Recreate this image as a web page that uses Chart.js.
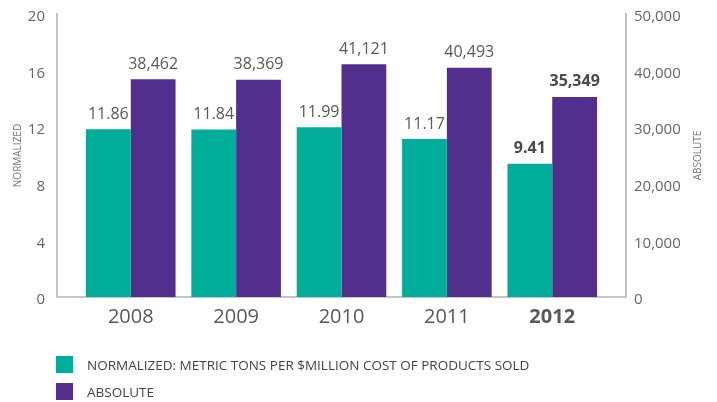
<!DOCTYPE html>
<html>
<head>
<meta charset="utf-8">
<script src="https://cdn.jsdelivr.net/npm/chart.js@4.4.1/dist/chart.umd.min.js"></script>
<style>
  body { margin: 0; background: #fff; font-family: "Open Sans", sans-serif; }
  #wrap { position: relative; width: 717px; height: 402px; }
  #legend { position: absolute; left: 56px; top: 356px; font-size: 13.5px; color: #444; }
  .item { display: flex; align-items: center; height: 17px; margin-bottom: 10px; }
  .box { width: 17px; height: 17px; margin-right: 14px; }
</style>
</head>
<body>
<div id="wrap">
  <canvas id="myChart" width="717" height="402"></canvas>
  <div id="legend"></div>
</div>
<script>
const years = ['2008', '2009', '2010', '2011', '2012'];
const normalized = [11.86, 11.84, 11.99, 11.17, 9.41];
const absolute = [38462, 38369, 41121, 40493, 35349];
const leftTicks = [0, 4, 8, 12, 16, 20];
const rightTicks = [0, 10000, 20000, 30000, 40000, 50000];

const TEAL = '#00ad9b';
const PURPLE = '#522e8d';
const AXIS = '#c4c4c4';
const TEXT = '#595959';

const seriesNames = ['NORMALIZED: METRIC TONS PER $MILLION COST OF PRODUCTS SOLD', 'ABSOLUTE'];

// value labels above bars + rotated axis titles
const labelPlugin = {
  id: 'labels',
  afterDatasetsDraw(chart) {
    const ctx = chart.ctx;
    ctx.save();
    ctx.textAlign = 'center';
    ctx.textBaseline = 'bottom';
    chart.data.datasets.forEach((ds, di) => {
      chart.getDatasetMeta(di).data.forEach((bar, i) => {
        const last = i === years.length - 1;
        ctx.font = (last ? 'bold ' : '') + '16px "Open Sans"';
        ctx.fillStyle = last ? '#4a4a4a' : TEXT;
        const v = ds.data[i].y;
        const txt = di === 0 ? v.toFixed(2) : v.toLocaleString('en-US');
        ctx.fillText(txt, bar.x, bar.y - 7);
      });
    });

    ctx.font = '10px "Open Sans"';
    ctx.fillStyle = '#777';
    ctx.textBaseline = 'middle';
    const midY = (chart.chartArea.top + chart.chartArea.bottom) / 2;
    [[18, 'NORMALIZED'], [698, 'ABSOLUTE']].forEach(([x, t]) => {
      ctx.save();
      ctx.translate(x, midY);
      ctx.rotate(-Math.PI / 2);
      ctx.fillText(t, 0, 0);
      ctx.restore();
    });
    ctx.restore();
  }
};

// fixed axis widths, and no extra room above/below for the tick labels
const fitY = width => scale => {
  scale.width = width;
  scale.paddingTop = 0;
  scale.paddingBottom = 0;
};

new Chart(document.getElementById('myChart'), {
  type: 'bar',
  data: {
    datasets: [{
      label: seriesNames[0],
      data: normalized.map((v, i) => ({ x: i, y: v })),
      backgroundColor: TEAL,
      yAxisID: 'y'
    }, {
      label: seriesNames[1],
      data: absolute.map((v, i) => ({ x: i, y: v })),
      backgroundColor: PURPLE,
      yAxisID: 'y1'
    }]
  },
  options: {
    responsive: false,
    animation: false,
    layout: { padding: { top: 14, bottom: 0, left: 0, right: 0 } },
    datasets: { bar: { categoryPercentage: 0.85, barPercentage: 1 } },
    plugins: {
      legend: { display: false },
      tooltip: { enabled: false }
    },
    scales: {
      x: {
        type: 'linear',
        offset: false,
        min: -0.7,
        max: 4.7,
        afterBuildTicks: scale => { scale.ticks = years.map((_, i) => ({ value: i })); },
        afterFit: scale => { scale.height = 105; },
        grid: { display: false, drawTicks: false },
        border: { color: AXIS, width: 2 },
        ticks: {
          padding: 8,
          color: TEXT,
          autoSkip: false,
          maxRotation: 0,
          callback: v => years[v],
          font: ctx => ({ family: 'Open Sans', size: 20, weight: ctx.index === years.length - 1 ? 'bold' : 'normal' })
        }
      },
      y: {
        position: 'left',
        min: 0,
        max: 20,
        afterBuildTicks: scale => { scale.ticks = leftTicks.map(v => ({ value: v })); },
        afterFit: fitY(57),
        grid: { display: false, drawTicks: false },
        border: { color: AXIS, width: 2 },
        ticks: { padding: 12, labelOffset: 3, color: '#666', font: { family: 'Open Sans', size: 15 } }
      },
      y1: {
        position: 'right',
        min: 0,
        max: 50000,
        afterBuildTicks: scale => { scale.ticks = rightTicks.map(v => ({ value: v })); },
        afterFit: fitY(91),
        grid: { display: false, drawTicks: false },
        border: { color: AXIS, width: 2 },
        ticks: {
          padding: 8,
          labelOffset: 3,
          color: '#666',
          font: { family: 'Open Sans', size: 15 },
          callback: v => v.toLocaleString('en-US')
        }
      }
    }
  },
  plugins: [labelPlugin]
});

// legend, one series per row
const legend = document.getElementById('legend');
[TEAL, PURPLE].forEach((c, i) => {
  const row = document.createElement('div');
  row.className = 'item';
  row.innerHTML = '<span class="box" style="background:' + c + '"></span><span>' + seriesNames[i] + '</span>';
  legend.appendChild(row);
});
</script>
</body>
</html>
